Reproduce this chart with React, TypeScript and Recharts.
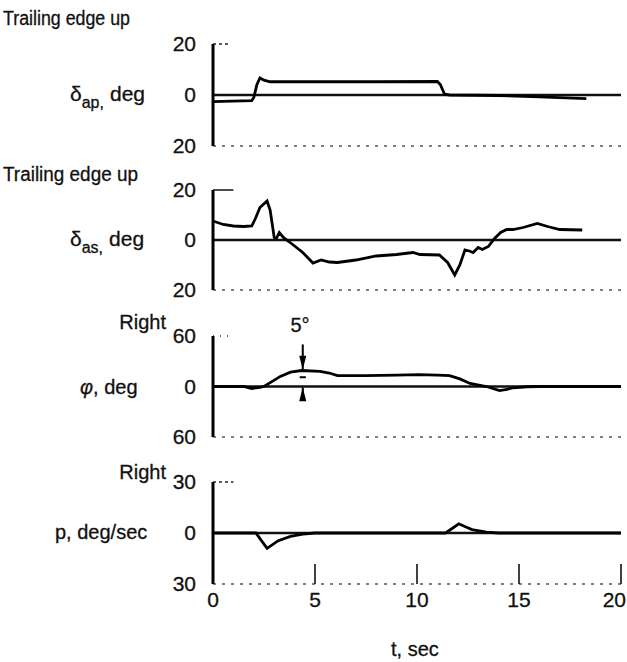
import React from 'react';
import { LineChart, Line, XAxis, YAxis, ReferenceLine } from 'recharts';

const FONT = "'Liberation Sans', Arial, sans-serif";

// x axis (time, sec)
const timeTicks = [0, 5, 10, 15, 20];

// Panel 1: aileron (primary) deflection, deg
const apTime = [0, 1.9, 2.0, 2.15, 2.3, 2.5, 2.8, 5, 8, 11.0, 11.15, 11.35, 11.6, 14, 16, 18.3];
const apValue = [-2.6, -2.2, -1, 4, 6.7, 5.8, 5.2, 5.2, 5.2, 5.3, 4, 0.3, 0, -0.2, -0.7, -1.4];

// Panel 2: aileron (secondary) deflection, deg
const asTime = [0, 0.5, 1.0, 1.5, 1.9, 2.1, 2.3, 2.65, 2.8, 3.0, 3.1, 3.25, 3.45, 3.7, 4.0, 4.4, 4.9, 5.3, 5.7, 6.1, 7.0, 8.0, 9.0, 9.8, 10.15, 11.1, 11.5, 11.85, 12.1, 12.35, 12.6, 12.75, 13.0, 13.2, 13.5, 13.8, 14.1, 14.4, 14.7, 15.2, 15.9, 16.4, 17.0, 18.1];
const asValue = [7.6, 6.2, 5.6, 5.4, 5.6, 9, 13, 15.6, 12, 1, 0.5, 3, 1, -0.5, -2.4, -5, -9.2, -8, -8.8, -9, -8, -6.4, -5.8, -5, -5.8, -6, -9, -14, -10, -4, -4.5, -5, -3, -3.8, -2.6, 0.6, 3, 4.2, 4.2, 5, 6.6, 5.4, 4.2, 4];

// Panel 3: bank angle phi, deg
const phiTime = [0, 1.5, 1.9, 2.3, 2.5, 3.3, 3.8, 4.35, 5.25, 5.7, 6.1, 7.5, 9, 10.1, 11.0, 11.6, 12.1, 12.6, 13.4, 14.05, 14.4, 14.7, 15.4, 16, 20];
const phiValue = [0, 0, -2.4, -1, 0, 12, 17, 19, 18, 16, 13, 13, 13.5, 14, 13.5, 13, 9, 3.6, 0, -4.8, -3.5, -1.5, -0.3, 0, 0];

// Panel 4: roll rate p, deg/sec
const pTime = [0, 2.1, 2.65, 3.2, 3.8, 4.4, 5, 11.4, 12.05, 12.4, 12.7, 13.4, 14, 20];
const pValue = [0, 0, -9, -4.5, -2, -0.6, 0, 0, 5.4, 3.5, 2, 0.5, 0, 0];

const toData = (ts: number[], vs: number[]) => ts.map((t, i) => ({ t, v: vs[i] }));

const ArrowShape = (props: any) => {
  const { x1, y1, x2, y2 } = props;
  const dx = x2 - x1;
  const dy = y2 - y1;
  const len = Math.sqrt(dx * dx + dy * dy) || 1;
  const ux = dx / len;
  const uy = dy / len;
  const hl = 14;
  const hw = 3.5;
  const bx = x2 - ux * hl;
  const by = y2 - uy * hl;
  const pts = `${x2},${y2} ${bx - uy * hw},${by + ux * hw} ${bx + uy * hw},${by - ux * hw}`;
  return (
    <g>
      <line x1={x1} y1={y1} x2={x2} y2={y2} stroke="#000" strokeWidth={2} />
      <polygon points={pts} fill="#000" />
    </g>
  );
};

const TimeTick = (props: any) => {
  const { x, y, payload } = props;
  const last = payload.value === 20;
  return (
    <text
      x={last ? x + 5 : x}
      y={y}
      dy={15}
      textAnchor={last ? 'end' : 'middle'}
      fontSize={21}
      fill="#111"
      stroke="#111"
      strokeWidth={0.3}
      fontFamily={FONT}
    >
      {payload.value}
    </text>
  );
};

type PanelProps = {
  top: number;
  plotH: number;
  axisH: number;
  yMax: number;
  data: { t: number; v: number }[];
  showX?: boolean;
  stubEnd: number;
  stubDash?: string;
  children?: React.ReactNode;
};

function Panel({ top, plotH, axisH, yMax, data, showX, stubEnd, stubDash, children }: PanelProps) {
  const H = 20 + plotH + axisH;
  return (
    <div style={{ position: 'absolute', left: 0, top: top - 20, width: 627, height: H }}>
      <LineChart width={627} height={H} data={data} margin={{ top: 20, right: 6, bottom: 0, left: 173 }}>
        <XAxis
          dataKey="t"
          type="number"
          domain={[0, 20]}
          ticks={timeTicks}
          interval={0}
          height={axisH}
          tickSize={-20}
          tickMargin={28}
          tick={showX ? <TimeTick /> : false}
          axisLine={{ stroke: '#555', strokeWidth: 1.3, strokeDasharray: '3 6' }}
          tickLine={{ stroke: '#111', strokeWidth: 1.6 }}
        />
        <YAxis
          type="number"
          domain={[-yMax, yMax]}
          ticks={[-yMax, 0, yMax]}
          interval={0}
          width={40}
          tickLine={false}
          tickMargin={11}
          tickFormatter={(v: number) => String(Math.abs(v))}
          tick={{ fontSize: 21, fill: '#111', stroke: '#111', strokeWidth: 0.3, fontFamily: FONT }}
          axisLine={{ stroke: '#000', strokeWidth: 3 }}
        />
        <ReferenceLine
          segment={[{ x: 0, y: yMax }, { x: stubEnd, y: yMax }]}
          stroke="#222"
          strokeWidth={1.6}
          strokeDasharray={stubDash}
        />
        <ReferenceLine y={0} stroke="#111" strokeWidth={2.4} />
        {children}
        <Line
          dataKey="v"
          type="linear"
          stroke="#000"
          strokeWidth={2.8}
          dot={false}
          isAnimationActive={false}
        />
      </LineChart>
    </div>
  );
}

export default function App() {
  const textStyle: React.CSSProperties = { fontFamily: FONT, fill: '#111', stroke: '#111', strokeWidth: 0.3 };
  return (
    <div style={{ position: 'absolute', left: 0, top: 0, width: 627, height: 662, background: '#fff', overflow: 'hidden' }}>
      <Panel top={44} plotH={102} axisH={22} yMax={20} data={toData(apTime, apValue)} stubEnd={0.85} stubDash="3 3" />
      <Panel top={190} plotH={100} axisH={22} yMax={20} data={toData(asTime, asValue)} stubEnd={1.0} />
      <Panel top={336} plotH={101} axisH={22} yMax={60} data={toData(phiTime, phiValue)} stubEnd={1.0} stubDash="1 6">
        <ReferenceLine segment={[{ x: 4.4, y: 50 }, { x: 4.4, y: 20 }]} shape={ArrowShape} />
        <ReferenceLine segment={[{ x: 4.4, y: -17 }, { x: 4.4, y: -1 }]} shape={ArrowShape} />
        <ReferenceLine segment={[{ x: 4.25, y: 11 }, { x: 4.55, y: 11 }]} stroke="#000" strokeWidth={2} />
      </Panel>
      <Panel top={482} plotH={102} axisH={40} yMax={30} data={toData(pTime, pValue)} showX stubEnd={1.0} stubDash="3 3" />
      <svg width={627} height={662} style={{ position: 'absolute', left: 0, top: 0, pointerEvents: 'none' }}>
        <text x={3} y={25} fontSize={20} textLength={127} lengthAdjust="spacingAndGlyphs" style={textStyle}>Trailing edge up</text>
        <text x={3} y={181} fontSize={20} textLength={135} lengthAdjust="spacingAndGlyphs" style={textStyle}>Trailing edge up</text>

        <text x={70} y={101} fontSize={21} style={textStyle}>
          δ<tspan fontSize={16} dy={7}>ap,</tspan>
          <tspan dy={-7} dx={6}>deg</tspan>
        </text>
        <text x={70} y={246} fontSize={21} style={textStyle}>
          δ<tspan fontSize={16} dy={7}>as,</tspan>
          <tspan dy={-7} dx={6}>deg</tspan>
        </text>

        <text x={166} y={329} fontSize={20} textAnchor="end" style={textStyle}>Right</text>
        <text x={80} y={394} fontSize={20} style={textStyle}>
          <tspan fontStyle="italic">φ</tspan>, deg
        </text>

        <text x={166} y={479} fontSize={20} textAnchor="end" style={textStyle}>Right</text>
        <text x={55} y={539} fontSize={20} style={textStyle}>p, deg/sec</text>

        <text x={300} y={332} fontSize={20} textAnchor="middle" style={textStyle}>5°</text>
        <text x={391} y={656} fontSize={20} style={textStyle}>t, sec</text>
      </svg>
    </div>
  );
}
